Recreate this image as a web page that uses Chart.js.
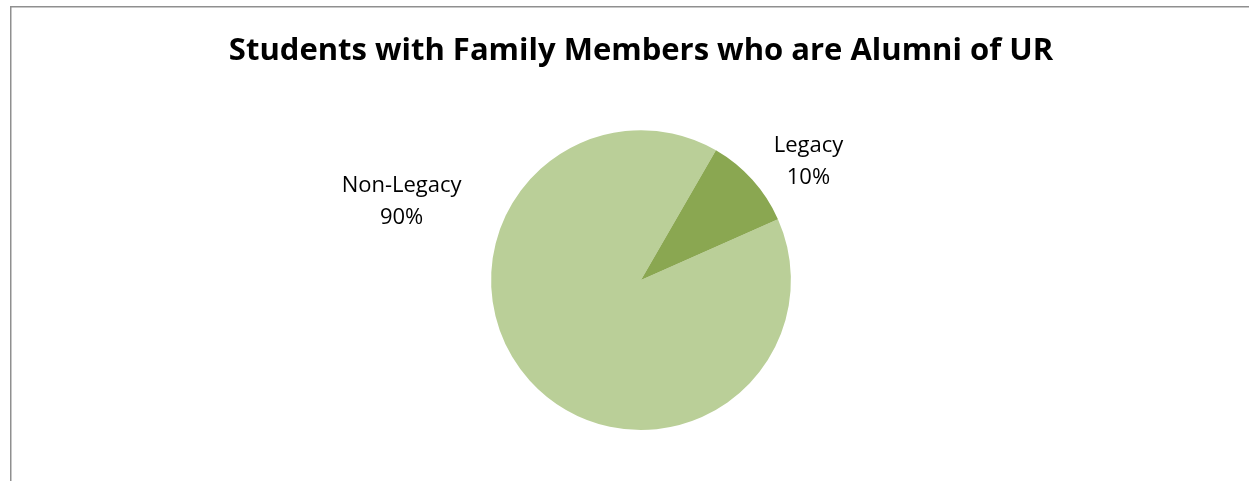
<!DOCTYPE html>
<html>
<head>
<meta charset="utf-8">
<script src="https://cdn.jsdelivr.net/npm/chart.js@4.4.0/dist/chart.umd.min.js"></script>
<style>
  html, body { margin: 0; padding: 0; background: #fff; }
  #wrap { width: 1249px; height: 481px; }
</style>
</head>
<body>
<div id="wrap"><canvas id="pie"></canvas></div>
<script>
const categories = ["Non-Legacy", "Legacy"];
const shares = [90, 10];
const sliceColors = ["#BACF98", "#8AA751"];

// where each label sits, relative to pie centre, in radii
const labelOffsets = [
  [-1.597, -0.52],
  [1.117, -0.79],
];

const frame = {
  id: "frame",
  beforeDraw(chart) {
    const c = chart.ctx;
    c.save();
    c.strokeStyle = "#8f8f8f";
    c.lineWidth = 1.5;
    c.beginPath();
    c.moveTo(10.75, chart.height);
    c.lineTo(10.75, 6.75);
    c.lineTo(chart.width, 6.75);
    c.stroke();
    c.restore();
  },
};

const pieLabels = {
  id: "pieLabels",
  afterDatasetsDraw(chart) {
    const c = chart.ctx;
    const arcs = chart.getDatasetMeta(0).data;
    c.save();
    c.fillStyle = "#000";
    c.font = "22px 'Open Sans'";
    c.textAlign = "center";
    c.textBaseline = "middle";
    arcs.forEach((arc, i) => {
      const r = arc.outerRadius;
      const x = arc.x + labelOffsets[i][0] * r;
      const y = arc.y + labelOffsets[i][1] * r;
      c.fillText(categories[i], x, y - 16);
      c.fillText(shares[i] + "%", x, y + 16);
    });
    c.restore();
  },
};

new Chart(document.getElementById("pie"), {
  type: "pie",
  data: {
    labels: categories,
    datasets: [
      {
        data: shares,
        backgroundColor: sliceColors,
        borderWidth: 0,
      },
    ],
  },
  options: {
    responsive: true,
    maintainAspectRatio: false,
    animation: false,
    rotation: 66,
    layout: { padding: { left: 33, right: 0, top: 0, bottom: 51 } },
    plugins: {
      legend: { display: false },
      tooltip: { enabled: false },
      title: {
        display: true,
        text: "Students with Family Members who are Alumni of UR",
        color: "#000",
        font: { family: "'Open Sans'", size: 31, weight: "bold", lineHeight: 1.2 },
        padding: { top: 33, bottom: 60 },
      },
    },
  },
  plugins: [frame, pieLabels],
});
</script>
</body>
</html>
